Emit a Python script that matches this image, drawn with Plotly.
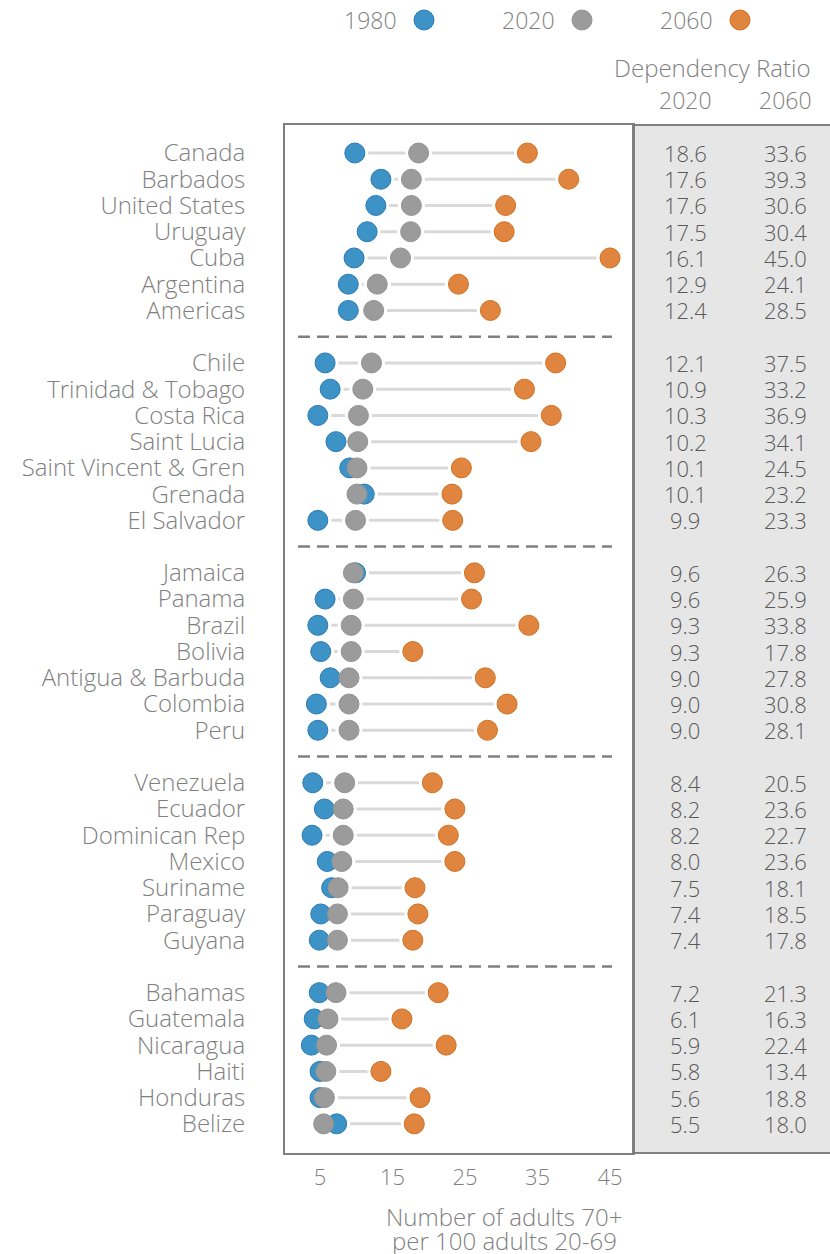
import plotly.graph_objects as go

countries = ["Canada", "Barbados", "United States", "Uruguay", "Cuba", "Argentina", "Americas",
             "Chile", "Trinidad & Tobago", "Costa Rica", "Saint Lucia", "Saint Vincent & Gren", "Grenada", "El Salvador",
             "Jamaica", "Panama", "Brazil", "Bolivia", "Antigua & Barbuda", "Colombia", "Peru",
             "Venezuela", "Ecuador", "Dominican Rep", "Mexico", "Suriname", "Paraguay", "Guyana",
             "Bahamas", "Guatemala", "Nicaragua", "Haiti", "Honduras", "Belize"]
group_sizes = [7, 7, 7, 7, 6]

v1980 = [9.8, 13.4, 12.7, 11.5, 9.7, 8.9, 8.9,
         5.7, 6.4, 4.7, 7.2, 9.1, 11.1, 4.7,
         9.9, 5.7, 4.7, 5.1, 6.4, 4.5, 4.7,
         4.0, 5.6, 3.9, 6.0, 6.6, 5.1, 4.9,
         4.9, 4.2, 3.8, 5.0, 5.0, 7.3]
v2020 = [18.6, 17.6, 17.6, 17.5, 16.1, 12.9, 12.4,
         12.1, 10.9, 10.3, 10.2, 10.1, 10.1, 9.9,
         9.6, 9.6, 9.3, 9.3, 9.0, 9.0, 9.0,
         8.4, 8.2, 8.2, 8.0, 7.5, 7.4, 7.4,
         7.2, 6.1, 5.9, 5.8, 5.6, 5.5]
v2060 = [33.6, 39.3, 30.6, 30.4, 45.0, 24.1, 28.5,
         37.5, 33.2, 36.9, 34.1, 24.5, 23.2, 23.3,
         26.3, 25.9, 33.8, 17.8, 27.8, 30.8, 28.1,
         20.5, 23.6, 22.7, 23.6, 18.1, 18.5, 17.8,
         21.3, 16.3, 22.4, 13.4, 18.8, 18.0]

x_ticks = [5, 15, 25, 35, 45]
series_names = ["1980", "2020", "2060"]
x_title_lines = ["Number of adults 70+", "per 100 adults 20-69"]

# slot positions (rows with a blank slot between groups)
slots = []
seps = []
s = 0
for gi, n in enumerate(group_sizes):
    for _ in range(n):
        slots.append(s)
        s += 1
    if gi < len(group_sizes) - 1:
        seps.append(s)
        s += 1

FONT = "Open Sans"
FW = 300
LABEL_C = "#7f7f7f"
NUM_C = "#595959"


def fnt(size, color=LABEL_C):
    return dict(family=FONT, size=size, color=color, weight=FW)


fig = go.Figure()

# connector lines
lx, ly = [], []
for a, b, c, y in zip(v1980, v2020, v2060, slots):
    lx += [min(a, b, c), max(a, b, c), None]
    ly += [y, y, None]
fig.add_trace(go.Scatter(x=lx, y=ly, mode="lines", line=dict(color="#d9d9d9", width=3),
                         hoverinfo="skip", showlegend=False))
# white halos to create gaps in line
for vals in (v1980, v2020, v2060):
    fig.add_trace(go.Scatter(x=vals, y=slots, mode="markers",
                             marker=dict(size=27, color="white", line=dict(width=0)),
                             hoverinfo="skip", showlegend=False))

styles = [("#3d92c6", "#2a7ab5"), ("#9b9b9b", "#939393"), ("#e0853f", "#d2701f")]
for name, vals, (fc, lc) in zip(series_names, (v1980, v2020, v2060), styles):
    fig.add_trace(go.Scatter(x=vals, y=slots, mode="markers", name=name,
                             marker=dict(size=20, color=fc, line=dict(color=lc, width=1)),
                             showlegend=False))

shapes = []
PW = 348.0
PH = 1028.0
# right panel
shapes.append(dict(type="rect", xref="paper", yref="paper", x0=1, x1=1.7, y0=0, y1=1,
                   fillcolor="#e6e6e6", line=dict(color="#7f7f7f", width=2), layer="below"))
# dashed separators
for sp in seps:
    shapes.append(dict(type="line", xref="paper", yref="y", x0=13 / PW, x1=327 / PW, y0=sp, y1=sp,
                       line=dict(color="#808080", width=2.5, dash="12px,7px")))

annotations = []
for y, a, b in zip(slots, v2020, v2060):
    annotations.append(dict(xref="paper", yref="y", x=(685 - 285) / PW, xanchor="center", y=y,
                            text=f"{a:.1f}", showarrow=False, font=fnt(22, NUM_C)))
    annotations.append(dict(xref="paper", yref="y", x=(785 - 285) / PW, xanchor="center", y=y,
                            text=f"{b:.1f}", showarrow=False, font=fnt(22, NUM_C)))

# headers
annotations.append(dict(xref="paper", yref="paper", x=(813 - 285) / PW, xanchor="right", y=1 + (125 - 68) / PH,
                        yanchor="middle", text="Dependency Ratio", showarrow=False, font=fnt(24)))
for txt, cx in (("2020", 685), ("2060", 785)):
    annotations.append(dict(xref="paper", yref="paper", x=(cx - 285) / PW, xanchor="center",
                            y=1 + (125 - 100) / PH, yanchor="middle", text=txt, showarrow=False,
                            font=fnt(23)))

# legend (text then dot)
for (name, (fc, lc)), tx, dx in zip(zip(series_names, styles), (399, 557, 715), (424, 582, 740)):
    annotations.append(dict(xref="paper", yref="paper", x=(tx - 285) / PW, xanchor="right",
                            y=1 + (125 - 20) / PH, yanchor="middle", text=name, showarrow=False,
                            font=fnt(23)))
    shapes.append(dict(type="circle", xref="paper", yref="paper", xsizemode="pixel", ysizemode="pixel",
                       xanchor=(dx - 285) / PW, yanchor=1 + (125 - 20) / PH,
                       x0=-10, x1=10, y0=-10, y1=10, fillcolor=fc, line=dict(color=lc, width=1)))

# x title (two lines, tight spacing)
for line_txt, cy in zip(x_title_lines, (1216, 1240)):
    annotations.append(dict(xref="paper", yref="paper", x=(504 - 285) / PW, xanchor="center",
                            y=-(cy - 1153) / PH, yanchor="middle", text=line_txt,
                            showarrow=False, font=fnt(24)))

fig.update_layout(
    width=830, height=1254,
    margin=dict(l=285, r=197, t=125, b=101, autoexpand=False),
    paper_bgcolor="white", plot_bgcolor="white",
    font=fnt(22),
    shapes=shapes, annotations=annotations,
    showlegend=False,
)
fig.update_xaxes(range=[0.17, 48.17], tickvals=x_ticks, showgrid=False, zeroline=False,
                 showline=True, mirror=True, linecolor="#7f7f7f", linewidth=2, automargin=False,
                 ticks="", ticklabelstandoff=4, tickfont=fnt(22))
fig.update_yaxes(range=[38.11, -1.067], tickvals=slots, ticktext=countries, showgrid=False, zeroline=False,
                 showline=True, mirror=True, linecolor="#7f7f7f", linewidth=2, automargin=False,
                 ticks="", ticklabelstandoff=33, tickfont=fnt(24))

fig.write_html("out.html", config={"displayModeBar": False},
               post_script="document.body.style.margin='0';document.body.style.overflow='hidden';")
